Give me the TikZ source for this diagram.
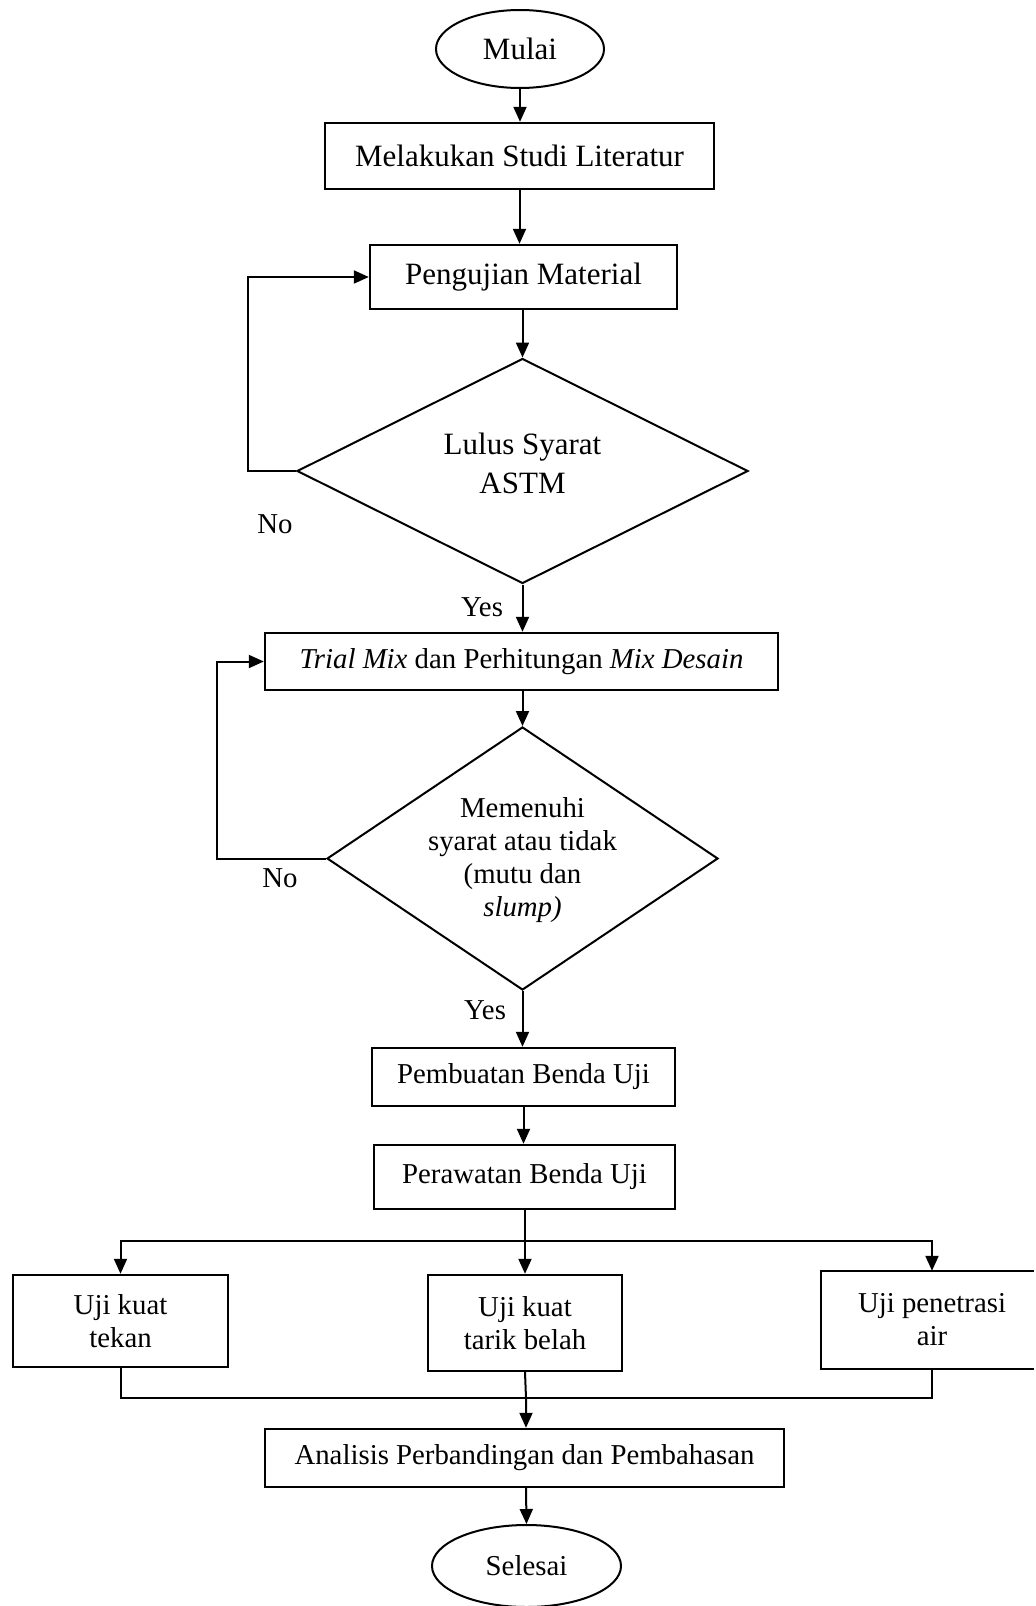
\documentclass[tikz,border=0pt]{standalone}
\usepackage{fontspec}
\setmainfont{Liberation Serif}
\usetikzlibrary{shapes.geometric,arrows.meta,calc}
\begin{document}
\begin{tikzpicture}[x=0.5pt,y=-0.5pt,
  line width=1pt,
  >={Triangle[length=7.5pt,width=6.5pt]},
  big/.style={font=\fontsize{15.5}{19.5}\selectfont},
  small/.style={font=\fontsize{14.4}{16.5}\selectfont},
  box/.style={draw,line width=1.2pt,rectangle,inner sep=0pt,align=center,small},
  term/.style={draw,line width=1pt,ellipse,inner sep=0pt,align=center},
  dia/.style={draw,line width=1pt,diamond,inner sep=0pt,aspect=2},
  lbl/.style={anchor=base,inner sep=0pt,small}]
\useasboundingbox (0,0) rectangle (1035,1606);

% terminals and boxes
\node[term,big,minimum width=84pt,minimum height=39pt] (mulai) at (520,49) {Mulai};
\node[box,big,minimum width=194.5pt,minimum height=33pt] (lit) at (519.5,156) {Melakukan Studi Literatur};
\node[box,big,minimum width=153.5pt,minimum height=32pt] (peng) at (523.5,277) {Pengujian Material};
\node[dia,minimum width=225.5pt,minimum height=112.5pt] (d1) at (522.5,471) {};
\node[big,align=center,inner sep=0pt] (d1t) at (522.5,463) {Lulus Syarat\\ASTM};
\node[box,minimum width=256.5pt,minimum height=28.5pt] (trial) at (521.5,661.5) {\textit{Trial Mix} dan Perhitungan \textit{Mix Desain}};
\node[dia,minimum width=195.5pt,minimum height=131.5pt] (d2) at (522.5,858.5) {};
\node[small,align=center,inner sep=0pt] (d2t) at (522.5,860) {Memenuhi\\syarat atau tidak\\(mutu dan\\\textit{slump)}};
\node[box,minimum width=151.5pt,minimum height=29pt] (buat) at (523.5,1077) {Pembuatan Benda Uji};
\node[box,minimum width=150.5pt,minimum height=32pt] (rawat) at (524.5,1177) {Perawatan Benda Uji};
\node[box,minimum width=107.5pt,minimum height=46pt] (tekan) at (120.5,1321) {Uji kuat\\tekan};
\node[box,minimum width=97pt,minimum height=48pt] (tarik) at (525,1323) {Uji kuat\\tarik belah};
\node[box,draw=none,minimum width=110pt,minimum height=48pt] (pen) at (932,1320) {Uji penetrasi\\air};
\node[box,minimum width=259.5pt,minimum height=29pt] (ana) at (524.5,1458) {Analisis Perbandingan dan Pembahasan};
\node[term,small,minimum width=94.5pt,minimum height=41pt] (sel) at (526.5,1566) {Selesai};

% open right box (runs past the page edge)
\draw[line width=1.2pt] ($(pen.north west)+(213,0)$) -- (pen.north west) -- (pen.south west) -- ($(pen.south west)+(213,0)$);

% labels
\node[lbl] (no1) at (275,533) {No};
\node[lbl] (yes1) at (482,616) {Yes};
\node[lbl] (no2) at (280,887) {No};
\node[lbl] (yes2) at (485,1019) {Yes};

% main flow
\draw[->] (mulai.south) -- (mulai.south |- lit.north);
\draw[->] (lit.south) -- (lit.south |- peng.north);
\draw[->] (peng.south -| d1.north) -- (d1.north);
\draw[->] (d1.south) -- (d1.south |- trial.north);
\draw[->] (trial.south -| d2.north) -- (d2.north);
\draw[->] (d2.south) -- (d2.south |- buat.north);
\draw[->] (buat.south) -- (buat.south |- rawat.north);

% loops
\draw[->] (d1.west) -- ++(-48,0) |- (peng.west);
\draw[->] (d2.west) -- ++(-109,0) |- (trial.west);

% branching
\coordinate (split) at (525,1241);
\draw (rawat.south -| split) -- (split);
\draw[->] (split) -| (tekan.north);
\draw[->] (split) -- (tarik.north);
\draw[->] (split) -| (pen.north);

% merging
\coordinate (merge) at (526,1398);
\draw (tekan.south) |- (merge);
\draw (pen.south) |- (merge);
\draw[->] (tarik.south) -- (merge) -- (merge |- ana.north);
\draw[->] (ana.south -| merge) -- (sel.north);
\end{tikzpicture}
\end{document}
